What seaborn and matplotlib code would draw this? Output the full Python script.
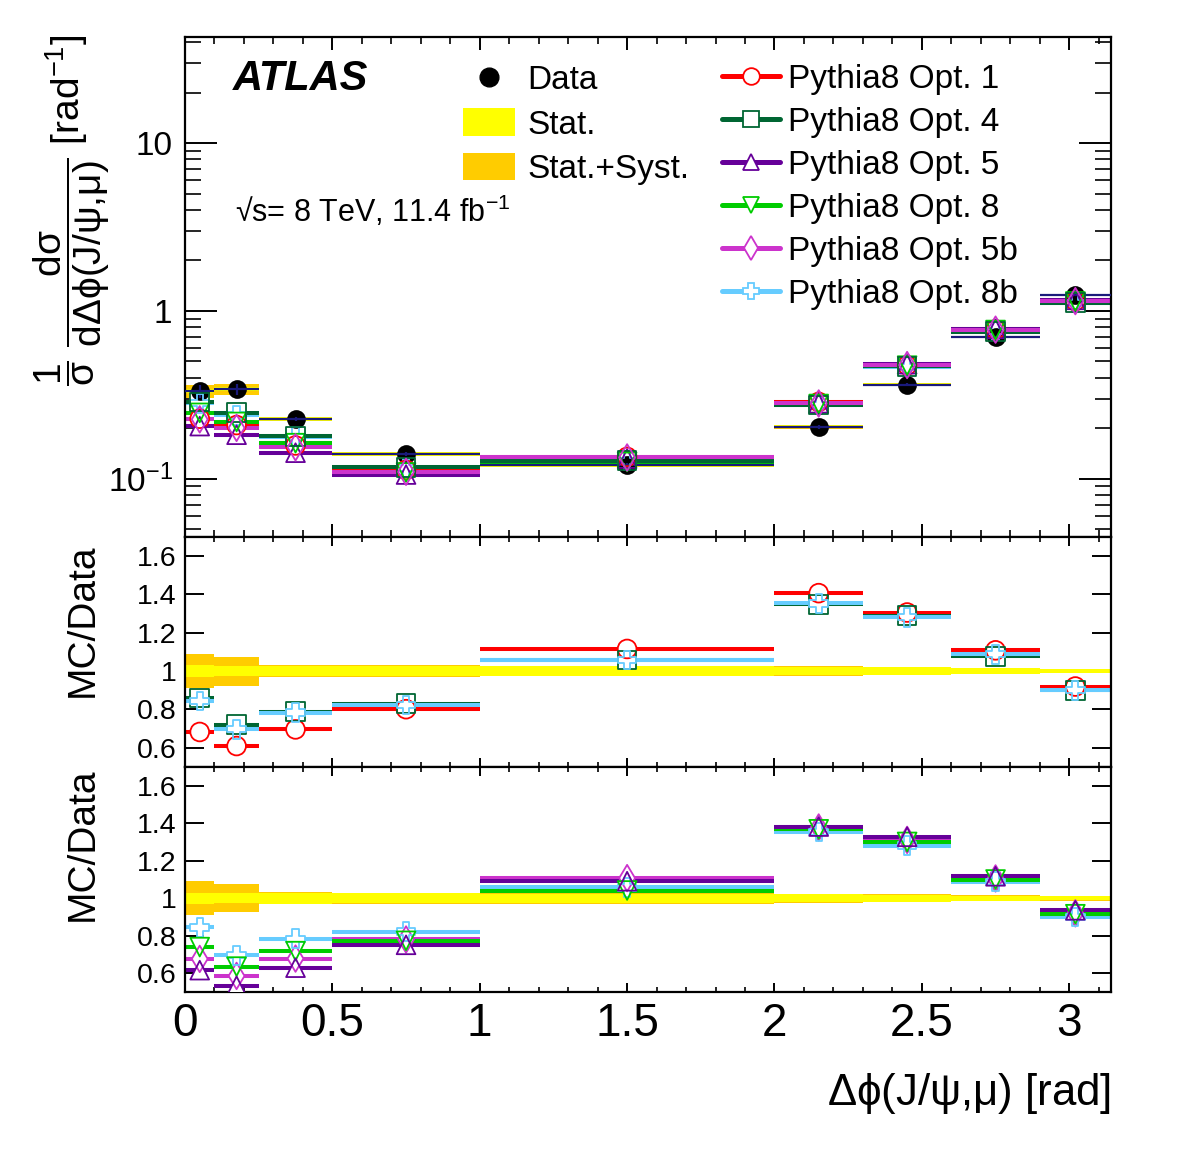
import numpy as np
import matplotlib
matplotlib.use("Agg")
import matplotlib.pyplot as plt
import seaborn as sns
from matplotlib.ticker import MultipleLocator, FixedLocator, NullLocator, NullFormatter, LogLocator
from matplotlib.lines import Line2D
from matplotlib.patches import Patch

# binning in delta phi(J/psi, mu) [rad]
bin_lo = [0.0, 0.1, 0.25, 0.5, 1.0, 2.0, 2.3, 2.6, 2.9]
bin_hi = [0.1, 0.25, 0.5, 1.0, 2.0, 2.3, 2.6, 2.9, np.pi]

# measured normalised cross section and relative uncertainties
data_val = [0.334, 0.343, 0.227, 0.141, 0.121, 0.204, 0.363, 0.700, 1.245]
stat_rel = [0.030, 0.027, 0.028, 0.026, 0.025, 0.022, 0.020, 0.014, 0.010]
tot_rel = [0.090, 0.075, 0.032, 0.030, 0.028, 0.025, 0.022, 0.016, 0.012]

# Pythia8 predictions
opt1 = [0.228, 0.209, 0.158, 0.113, 0.135, 0.287, 0.474, 0.776, 1.145]
opt4 = [0.287, 0.247, 0.179, 0.117, 0.128, 0.275, 0.468, 0.754, 1.121]
opt5 = [0.206, 0.183, 0.143, 0.106, 0.132, 0.282, 0.482, 0.782, 1.165]
opt8 = [0.247, 0.218, 0.163, 0.109, 0.126, 0.279, 0.472, 0.770, 1.139]
opt5b = [0.226, 0.201, 0.154, 0.110, 0.134, 0.281, 0.476, 0.774, 1.145]
opt8b = [0.282, 0.239, 0.178, 0.116, 0.128, 0.276, 0.465, 0.762, 1.121]

mc_names = ["Pythia8 Opt. 1", "Pythia8 Opt. 4", "Pythia8 Opt. 5",
            "Pythia8 Opt. 8", "Pythia8 Opt. 5b", "Pythia8 Opt. 8b"]

YELLOW = "#ffff00"
ORANGE = "#ffcc00"
NAVY = "#1a1a7a"
style = {
    "Pythia8 Opt. 1": ("#ff0000", "o", opt1),
    "Pythia8 Opt. 4": ("#006633", "s", opt4),
    "Pythia8 Opt. 5": ("#660099", "^", opt5),
    "Pythia8 Opt. 8": ("#00cc00", "v", opt8),
    "Pythia8 Opt. 5b": ("#cc33cc", "d", opt5b),
    "Pythia8 Opt. 8b": ("#66ccff", "P", opt8b),
}

sns.set_theme(style="ticks", rc={"axes.edgecolor": "black", "text.color": "black",
                                 "xtick.color": "black", "ytick.color": "black",
                                 "axes.labelcolor": "black"})
plt.rcParams["font.family"] = ["Liberation Sans", "DejaVu Sans"]
plt.rcParams["mathtext.fontset"] = "custom"
plt.rcParams["mathtext.rm"] = "Liberation Sans"
plt.rcParams["mathtext.it"] = "Liberation Sans:italic"
plt.rcParams["mathtext.bf"] = "Liberation Sans:bold"
plt.rcParams["mathtext.default"] = "regular"

lo = np.array(bin_lo)
hi = np.array(bin_hi)
mid = (lo + hi) / 2
wid = hi - lo
dv = np.array(data_val)
srel = np.array(stat_rel)
trel = np.array(tot_rel)

MS = 13.5
MEW = 1.3
LW = 2.9

fig = plt.figure(figsize=(11.82, 11.53), dpi=100)
ax0 = fig.add_axes([0.1565, 0.5343, 0.7834, 0.4337])
ax1 = fig.add_axes([0.1565, 0.3348, 0.7834, 0.1995])
ax2 = fig.add_axes([0.1565, 0.1396, 0.7834, 0.1952])


def draw_mc(ax, vals, color, marker):
    ax.hlines(vals, lo, hi, colors=color, lw=LW, zorder=2)
    sns.scatterplot(x=mid, y=vals, ax=ax, marker=marker, s=MS ** 2, facecolor="white",
                    edgecolor="none", linewidth=0, zorder=4, legend=False)
    sns.scatterplot(x=mid, y=vals, ax=ax, marker=marker, s=MS ** 2, facecolor="none",
                    edgecolor=color, linewidth=MEW, zorder=7, legend=False)


# top panel: data with bands
ax0.bar(lo, 2 * dv * trel, bottom=dv * (1 - trel), width=wid, align="edge",
        color=ORANGE, lw=0, zorder=1)
ax0.bar(lo, 2 * dv * srel, bottom=dv * (1 - srel), width=wid, align="edge",
        color=YELLOW, lw=0, zorder=1.1)
for name in ["Pythia8 Opt. 8b", "Pythia8 Opt. 1", "Pythia8 Opt. 5", "Pythia8 Opt. 8",
             "Pythia8 Opt. 4", "Pythia8 Opt. 5b"]:
    c, m, v = style[name]
    draw_mc(ax0, v, c, m)
sns.scatterplot(x=mid, y=dv, ax=ax0, marker="o", s=MS ** 2, color="black",
                edgecolor="black", linewidth=0, zorder=5, legend=False)
ax0.errorbar(mid, dv, xerr=wid / 2, yerr=dv * trel, fmt="none", ecolor=NAVY,
             elinewidth=1.6, capsize=0, zorder=6)
ax0.set_yscale("log")
ax0.set_ylim(0.045, 43)

# ratio panels
for ax, names in [(ax1, ["Pythia8 Opt. 1", "Pythia8 Opt. 4", "Pythia8 Opt. 8b"]),
                  (ax2, ["Pythia8 Opt. 5b", "Pythia8 Opt. 8b", "Pythia8 Opt. 8", "Pythia8 Opt. 5"])]:
    ax.bar(lo, 2 * trel, bottom=1 - trel, width=wid, align="edge", color=ORANGE, lw=0, zorder=1)
    ax.bar(lo, 2 * srel, bottom=1 - srel, width=wid, align="edge", color=YELLOW, lw=0, zorder=1.1)
    for name in names:
        c, m, v = style[name]
        draw_mc(ax, np.array(v) / dv, c, m)
    ax.set_ylim(0.5, 1.7)
    ax.yaxis.set_major_locator(FixedLocator([0.6, 0.8, 1.0, 1.2, 1.4, 1.6]))
    ax.set_yticklabels(["0.6", "0.8", "1", "1.2", "1.4", "1.6"], fontsize=20.5)
    ax.yaxis.set_minor_locator(NullLocator())
    ax.set_ylabel("MC/Data", fontsize=28)
    ax.tick_params(axis="y", which="major", direction="in", length=14, width=1.4,
                   left=True, right=True, pad=6)

ax1.yaxis.set_label_coords(-0.091, 0.639)
ax2.yaxis.set_label_coords(-0.091, 0.658)

for ax in (ax0, ax1, ax2):
    ax.set_xlim(0, np.pi)
    ax.xaxis.set_major_locator(MultipleLocator(0.5))
    ax.xaxis.set_minor_locator(MultipleLocator(0.1))
    for sp in ax.spines.values():
        sp.set_linewidth(1.6)
        sp.set_visible(True)
    ax.set_xlabel("")

ax0.tick_params(axis="x", which="major", direction="in", length=9.4, width=1.4,
                top=True, bottom=True, labelbottom=False)
ax0.tick_params(axis="x", which="minor", direction="in", length=5, width=1.2,
                top=True, bottom=True)
for ax in (ax1, ax2):
    ax.tick_params(axis="x", which="major", direction="in", length=6.5, width=1.4,
                   top=True, bottom=True)
    ax.tick_params(axis="x", which="minor", direction="in", length=3.8, width=1.2,
                   top=True, bottom=True)
ax1.tick_params(axis="x", labelbottom=False)

ax2.xaxis.set_major_locator(FixedLocator([0, 0.5, 1, 1.5, 2, 2.5, 3]))
ax2.set_xticklabels(["0", "0.5", "1", "1.5", "2", "2.5", "3"], fontsize=33)
ax2.tick_params(axis="x", which="major", pad=7)
ax2.set_xlabel(r"$\Delta\phi(J/\psi{,}\mu)$ [rad]", fontsize=31.5, ha="right")
ax2.xaxis.set_label_coords(1.0, -0.35)

ax0.yaxis.set_major_locator(FixedLocator([0.1, 1, 10]))
ax0.yaxis.set_minor_locator(LogLocator(base=10, subs=np.arange(2, 10)))
ax0.yaxis.set_minor_formatter(NullFormatter())
ax0.set_yticklabels([r"$10^{-1}$", "1", "10"], fontsize=24)
ax0.tick_params(axis="y", which="major", direction="in", length=23, width=1.4,
                left=True, right=True, pad=9)
ax0.tick_params(axis="y", which="minor", direction="in", length=11.5, width=1.2,
                left=True, right=True)
ax0.set_ylabel(r"$\dfrac{1}{\sigma}\ \dfrac{d\sigma}{d\Delta\phi(J/\psi{,}\mu)}$ [rad$^{-1}$]",
               fontsize=28)
ax0.yaxis.set_label_coords(-0.079, 0.652)

# texts
fig.text(233 / 1182, 1 - 90 / 1153, "ATLAS", fontsize=30, weight="bold", style="italic",
         ha="left", va="baseline")
fig.text(235 / 1182, 1 - 222 / 1153, "\u221as= 8 TeV, 11.4 fb$^{-1}$", fontsize=22,
         ha="left", va="baseline")

# legends
h_left = [Line2D([], [], ls="none", marker="o", color="black", ms=MS),
          Patch(facecolor=YELLOW, lw=0), Patch(facecolor=ORANGE, lw=0)]
l_left = ["Data", "Stat.", "Stat.+Syst."]
leg1 = ax0.legend(h_left, l_left, loc="upper left", bbox_to_anchor=(463 / 1182, 1 - 64 / 1153),
                  bbox_transform=fig.transFigure, frameon=False, fontsize=24,
                  handlelength=1.56, handleheight=0.9, handletextpad=0.36,
                  labelspacing=0.36, borderpad=0, borderaxespad=0)
ax0.add_artist(leg1)
h_right = []
for name in mc_names:
    c, m, v = style[name]
    h_right.append(Line2D([], [], color=c, lw=3.6, marker=m, ms=12, mfc="white",
                          mec=c, mew=MEW))
ax0.legend(h_right, mc_names, loc="upper left", bbox_to_anchor=(722 / 1182, 1 - 64 / 1153),
           bbox_transform=fig.transFigure, frameon=False, fontsize=24,
           handlelength=1.74, handletextpad=0.24, labelspacing=0.36,
           borderpad=0, borderaxespad=0)

fig.savefig("out.png", dpi=100)
